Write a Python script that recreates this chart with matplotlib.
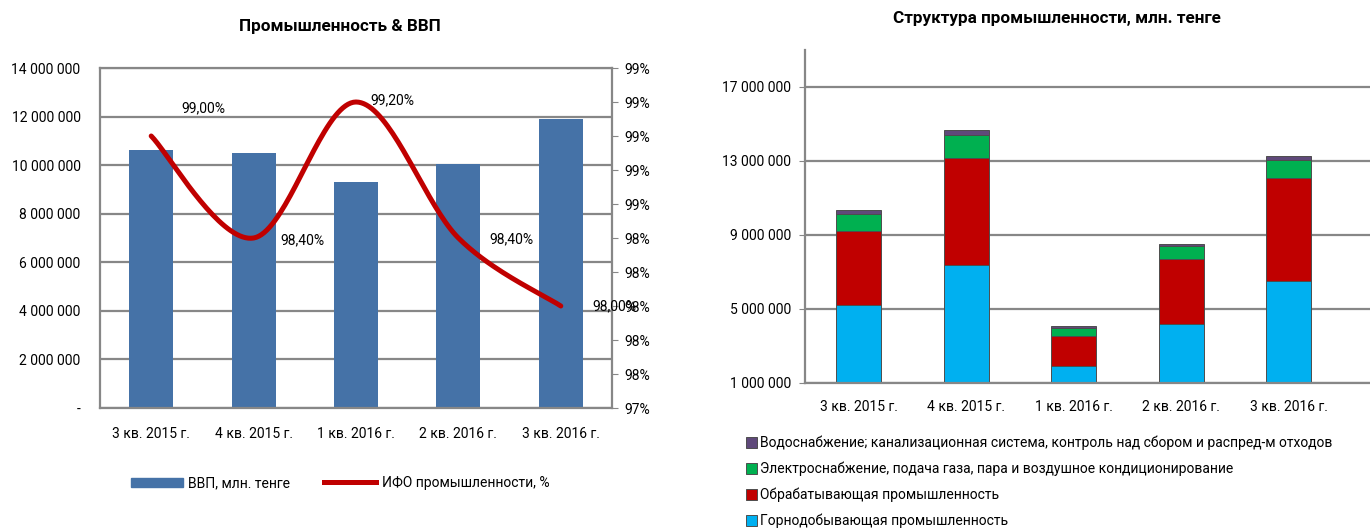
import matplotlib.pyplot as plt
import numpy as np
from matplotlib.patches import Patch
from matplotlib.lines import Line2D
from matplotlib.ticker import FuncFormatter

plt.rcParams['font.family'] = ['Roboto', 'DejaVu Sans']

quarters = ['3 кв. 2015 г.', '4 кв. 2015 г.', '1 кв. 2016 г.', '2 кв. 2016 г.', '3 кв. 2016 г.']

# left chart
gdp = [10640000, 10500000, 9320000, 10050000, 11880000]
ifo = [99.0, 98.4, 99.2, 98.4, 98.0]
ifo_labels = ['99,00%', '98,40%', '99,20%', '98,40%', '98,00%']

# right chart (млн. тенге)
mining = [5220000, 7390000, 1940000, 4190000, 6540000]
manuf = [4020000, 5770000, 1620000, 3500000, 5520000]
energy = [910000, 1260000, 400000, 690000, 970000]
water = [190000, 250000, 120000, 160000, 220000]

grid_c = '#878787'
fs = 10
tfs = 12.3


def smooth(xs, ys, n=40):
    # excel-like smoothed line (catmull-rom bezier)
    pts = np.column_stack([xs, ys]).astype(float)
    p = np.vstack([pts[0], pts, pts[-1]])
    out = []
    for i in range(1, len(p) - 2):
        p0, p1, p2, p3 = p[i - 1], p[i], p[i + 1], p[i + 2]
        c1 = p1 + (p2 - p0) / 6
        c2 = p2 - (p3 - p1) / 6
        t = np.linspace(0, 1, n)[:, None]
        seg = (1 - t)**3 * p1 + 3 * (1 - t)**2 * t * c1 + 3 * (1 - t) * t**2 * c2 + t**3 * p2
        out.append(seg if i == 1 else seg[1:])
    out = np.vstack(out)
    return out[:, 0], out[:, 1]


def money(v, pos):
    if v == 0:
        return '-'
    return '{:,.0f}'.format(v).replace(',', ' ')


fig = plt.figure(figsize=(13.7, 5.31), dpi=100)

# ---------- left ----------
ax = fig.add_axes([100 / 1370, 1 - 408 / 531, 512 / 1370, 340 / 531])
x = np.arange(len(quarters))
ax.bar(x, gdp, width=0.43, color='#4572A7', zorder=2)
ax.set_xlim(-0.5, 4.5)
ax.set_ylim(0, 14000000)
ax.set_yticks(np.arange(0, 14000001, 2000000))
ax.yaxis.set_major_formatter(FuncFormatter(money))
ax.set_xticks(x)
ax.set_xticklabels(quarters)
ax.grid(axis='y', color=grid_c, lw=1.6, zorder=0)
for s in ax.spines.values():
    s.set_color(grid_c)
    s.set_linewidth(1.6)
ax.tick_params(axis='x', length=0, pad=14, labelsize=fs)
ax.tick_params(axis='y', length=0, labelsize=fs, pad=14)

ax2 = ax.twinx()
ax2.set_ylim(97.4, 99.4)
ax2.set_yticks(np.arange(97.4, 99.41, 0.2))
ax2.yaxis.set_major_formatter(FuncFormatter(lambda v, p: '{:.0f}%'.format(v)))
ax2.tick_params(axis='y', length=4, color=grid_c, labelsize=fs, pad=5)
for s in ax2.spines.values():
    s.set_visible(False)
sx, sy = smooth(x, ifo)
ax2.plot(sx, sy, color='#C00000', lw=3.6, solid_capstyle='round', zorder=3)
offs = [(22, 20), (19, -2), (10, 1), (22, -1), (23, 0)]
for i in range(len(ifo)):
    ax2.annotate(ifo_labels[i], (x[i], ifo[i]), xytext=offs[i], textcoords='offset points',
                 fontsize=fs, ha='left', va='center')

fig.text(340 / 1370, 1 - 26 / 531, 'Промышленность & ВВП', ha='center', va='center',
         fontsize=tfs, fontweight='bold')

h1 = [Patch(color='#4572A7'), Line2D([], [], color='#C00000', lw=3.6)]
fig.legend(h1, ['ВВП, млн. тенге', 'ИФО промышленности, %'], ncol=2, frameon=False,
           loc='center', bbox_to_anchor=(340 / 1370, 1 - 483 / 531), fontsize=fs,
           handlelength=3.75, handleheight=0.6, columnspacing=2.45, handletextpad=0.4)

# ---------- right ----------
bx = fig.add_axes([805 / 1370, 1 - 383 / 531, 565 / 1370, 333 / 531])
b2 = np.array(mining)
b3 = b2 + np.array(manuf)
b4 = b3 + np.array(energy)
ec = '#4d4d4d'
w = 0.42
bx.bar(x, mining, width=w, color='#00B0F0', edgecolor=ec, lw=0.7, zorder=2)
bx.bar(x, manuf, width=w, bottom=b2, color='#C00000', edgecolor=ec, lw=0.7, zorder=2)
bx.bar(x, energy, width=w, bottom=b3, color='#00B050', edgecolor=ec, lw=0.7, zorder=2)
bx.bar(x, water, width=w, bottom=b4, color='#5F497A', edgecolor=ec, lw=0.7, zorder=2)
bx.set_xlim(-0.5, 4.756)
bx.set_ylim(1000000, 19000000)
bx.set_yticks(np.arange(1000000, 17000001, 4000000))
bx.yaxis.set_major_formatter(FuncFormatter(money))
bx.set_xticks(x)
bx.set_xticklabels(quarters)
bx.grid(axis='y', color=grid_c, lw=1.6, zorder=0)
for k in ['top', 'right']:
    bx.spines[k].set_visible(False)
for k in ['left', 'bottom']:
    bx.spines[k].set_color(grid_c)
    bx.spines[k].set_linewidth(1.6)
bx.tick_params(axis='x', length=0, pad=12, labelsize=fs)
bx.tick_params(axis='y', length=4, color=grid_c, labelsize=fs, pad=6)

fig.text(1057 / 1370, 1 - 19 / 531, 'Структура промышленности, млн. тенге', ha='center',
         va='center', fontsize=tfs, fontweight='bold')

h2 = [Patch(facecolor=c, edgecolor=ec, lw=0.7) for c in ['#5F497A', '#00B050', '#C00000', '#00B0F0']]
l2 = ['Водоснабжение; канализационная система, контроль над сбором и распред-м отходов',
      'Электроснабжение, подача газа, пара и воздушное кондиционирование',
      'Обрабатывающая промышленность',
      'Горнодобывающая промышленность']
fig.legend(h2, l2, frameon=False, loc='upper left', bbox_to_anchor=(746 / 1370, 1 - 436 / 531),
           fontsize=fs, handlelength=0.8, handleheight=0.8, handletextpad=0.2,
           labelspacing=0.82, borderaxespad=0, borderpad=0)

fig.savefig('out.png', dpi=100)
